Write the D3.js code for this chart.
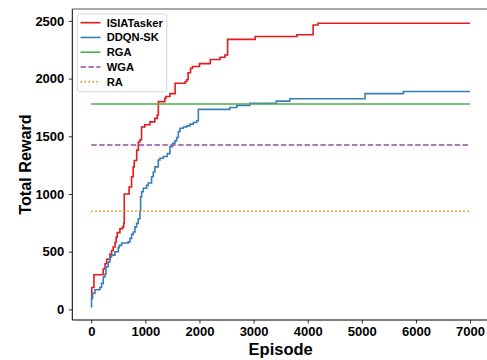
<!DOCTYPE html>
<html>
<head>
<meta charset="utf-8">
<script src="https://cdn.jsdelivr.net/npm/d3@7"></script>
<style>
  body { margin: 0; background: white; }
  text { font-family: "Liberation Sans", Arial, sans-serif; font-weight: bold; }
</style>
</head>
<body>
<div id="svgWrapper"></div>
<script>
// step points: episode where the step happens, new reward
var isiaEpisodes = [0, 10, 50, 220, 255, 285, 345, 375, 405, 440, 460, 480, 530, 580, 600, 610, 700, 745, 775, 795, 840, 870, 900, 930, 990, 1085, 1175, 1220, 1240, 1360, 1380, 1455, 1550, 1735, 1765, 1790, 1835, 1870, 2000, 2200, 2380, 2470, 2520, 3030, 3800, 4100, 4190, 7000];
var isiaRewards  = [95, 190, 300, 350, 395, 435, 480, 510, 540, 580, 625, 665, 700, 715, 745, 1000, 1060, 1150, 1235, 1290, 1380, 1450, 1470, 1580, 1600, 1625, 1655, 1685, 1800, 1830, 1845, 1870, 1960, 1975, 1990, 2050, 2090, 2105, 2130, 2165, 2185, 2205, 2340, 2365, 2380, 2465, 2480, 2480];

var ddqnEpisodes = [0, 5, 25, 68, 160, 191, 222, 253, 271, 314, 345, 376, 438, 500, 518, 561, 684, 715, 746, 777, 808, 838, 869, 900, 912, 931, 962, 1023, 1054, 1115, 1146, 1177, 1239, 1270, 1331, 1405, 1454, 1504, 1547, 1578, 1609, 1640, 1701, 1763, 1825, 1886, 1948, 1979, 2560, 2690, 2930, 3420, 3670, 5060, 5770, 7000];
var ddqnRewards  = [20, 95, 140, 170, 190, 225, 280, 305, 370, 410, 455, 470, 500, 535, 555, 575, 585, 615, 650, 670, 715, 745, 785, 855, 975, 1020, 1050, 1075, 1095, 1150, 1190, 1235, 1295, 1310, 1325, 1350, 1410, 1440, 1460, 1490, 1540, 1570, 1580, 1590, 1605, 1620, 1635, 1733, 1750, 1768, 1785, 1805, 1825, 1870, 1888, 1888];

var baselineNames  = ["RGA", "WGA", "RA"];
var baselineValues = [1780, 1425, 850];
var baselineRange  = [0, 7000];

var legendNames = ["ISIATasker", "DDQN-SK", "RGA", "WGA", "RA"];
var xTicks = [0, 1000, 2000, 3000, 4000, 5000, 6000, 7000];
var yTicks = [0, 500, 1000, 1500, 2000, 2500];

var fullWidth = 487, fullHeight = 360;
var padLeft = 72.3, padRight = 489, padTop = 9, padBottom = 320;

var colors = ["#e41a1c", "#377eb8", "#4daf4a", "#984ea3", "#ff7f00"];
var dashes = [null, null, null, "5.5,2.4", "1.5,2.5"];

var svg = d3.select("#svgWrapper")
  .append("svg")
  .attr("width", fullWidth)
  .attr("height", fullHeight);

var xScale = d3.scaleLinear().domain([-350, 7350]).range([padLeft, padRight]);
var yScale = d3.scaleLinear().domain([-92, 2603]).range([padBottom, padTop]);

// build series from the arrays
var series = [
  isiaEpisodes.map(function(e, i) { return [e, isiaRewards[i]]; }),
  ddqnEpisodes.map(function(e, i) { return [e, ddqnRewards[i]]; })
];
baselineValues.forEach(function(v) {
  series.push(baselineRange.map(function(e) { return [e, v]; }));
});

var line = d3.line()
  .x(function(d) { return xScale(d[0]); })
  .y(function(d) { return yScale(d[1]); })
  .curve(d3.curveStepAfter);

svg.selectAll("path.series")
  .data(series)
  .enter().append("path")
  .attr("class", "series")
  .attr("d", line)
  .attr("fill", "none")
  .attr("stroke", function(d, i) { return colors[i]; })
  .attr("stroke-width", 1.6)
  .attr("stroke-dasharray", function(d, i) { return dashes[i]; });

// axes
var xAxis = svg.append("g")
  .attr("transform", "translate(0," + padBottom + ")")
  .call(d3.axisBottom(xScale).tickValues(xTicks).tickSize(3.5).tickPadding(3.3).tickFormat(d3.format("d")));
var yAxis = svg.append("g")
  .attr("transform", "translate(" + padLeft + ",0)")
  .call(d3.axisLeft(yScale).tickValues(yTicks).tickSize(3.5).tickPadding(4.5).tickFormat(d3.format("d")));

[xAxis, yAxis].forEach(function(a) {
  a.select(".domain").remove();
  a.selectAll(".tick line").attr("stroke", "black").attr("stroke-width", 0.8);
  a.selectAll(".tick text").attr("fill", "black").style("font-size", "13px");
});

// spines
svg.append("line").attr("x1", padLeft).attr("x2", padLeft).attr("y1", padTop).attr("y2", padBottom)
  .attr("stroke", "black").attr("stroke-width", 1);
svg.append("line").attr("x1", padLeft).attr("x2", padRight).attr("y1", padBottom).attr("y2", padBottom)
  .attr("stroke", "black").attr("stroke-width", 1);
svg.append("line").attr("x1", padLeft).attr("x2", padRight).attr("y1", padTop).attr("y2", padTop)
  .attr("stroke", "#555").attr("stroke-width", 1);

// legend
var legend = svg.append("g");
legend.append("rect")
  .attr("x", 77.3).attr("y", 14)
  .attr("width", 89.5).attr("height", 77.7)
  .attr("rx", 2.5)
  .attr("fill", "white").attr("fill-opacity", 0.8)
  .attr("stroke", "#cccccc").attr("stroke-width", 0.8);

for (var p = 0; p < legendNames.length; p++) {
  var ly = 22.7 + 14.75 * p;
  legend.append("line")
    .attr("x1", 80.5).attr("x2", 100.5)
    .attr("y1", ly).attr("y2", ly)
    .attr("stroke", colors[p])
    .attr("stroke-width", 1.6)
    .attr("stroke-dasharray", dashes[p]);
  legend.append("text")
    .attr("x", 106.7)
    .attr("y", ly + 4)
    .style("font-size", "11.2px")
    .attr("fill", "black")
    .text(legendNames[p]);
}

// axis labels
svg.append("text")
  .attr("text-anchor", "middle")
  .style("font-size", "16.5px")
  .attr("fill", "black")
  .attr("transform", "translate(" + (padLeft + padRight) / 2 + ", 354.5)")
  .text("Episode");

svg.append("text")
  .attr("text-anchor", "middle")
  .style("font-size", "16.2px")
  .attr("fill", "black")
  .attr("transform", "translate(31, " + (padTop + padBottom) / 2 + ") rotate(-90)")
  .text("Total Reward");
</script>
</body>
</html>
